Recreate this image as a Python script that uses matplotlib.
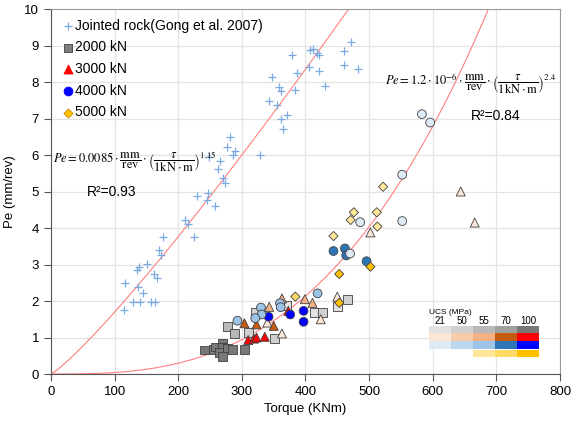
"""
Penetration rate vs torque: jointed rock data and TBM data coloured by UCS.
"""

import numpy as np
import matplotlib
matplotlib.use("Agg")
import matplotlib.pyplot as plt
from matplotlib.patches import Rectangle

plt.rcParams["font.family"] = ["Liberation Sans", "DejaVu Sans"]
plt.rcParams["mathtext.fontset"] = "stix"

# --------------------------------------------------
# DATA
# --------------------------------------------------
# jointed rock (Gong et al. 2007)
jr_torque = [347, 359, 361, 343, 356, 361, 371, 364, 281, 277, 289, 249, 265, 286,
             329, 262, 271, 273, 229, 246, 245, 258, 211, 216, 225, 176, 169, 173,
             151, 139, 135, 162, 166, 116, 136, 145, 129, 140, 157, 164, 114,
             471, 461, 407, 412, 418, 422, 379, 405, 421, 460, 482, 387, 430, 383]
jr_pe = [8.13, 7.85, 7.76, 7.49, 7.36, 6.98, 7.10, 6.72, 6.48, 6.23, 6.12, 5.95, 5.84, 5.99,
         6.00, 5.62, 5.38, 5.22, 4.88, 4.97, 4.77, 4.60, 4.22, 4.11, 3.75, 3.75, 3.40, 3.26,
         3.01, 2.94, 2.85, 2.74, 2.62, 2.50, 2.38, 2.23, 1.98, 1.98, 1.98, 1.98, 1.75,
         9.10, 8.86, 8.88, 8.90, 8.80, 8.73, 8.73, 8.42, 8.31, 8.47, 8.35, 8.24, 7.89, 7.77]

# 2000 kN (squares)
t2000 = [241, 255, 259, 269, 270, 277, 285, 264, 269, 304,
         278, 288, 310, 322, 351, 370, 414, 427, 450, 466]
pe2000 = [0.66, 0.68, 0.74, 0.85, 0.74, 0.71, 0.68, 0.60, 0.47, 0.68,
          1.30, 1.10, 1.13, 1.68, 0.98, 1.87, 1.69, 1.69, 1.84, 2.05]
ucs2000 = [100, 100, 100, 100, 100, 100, 100, 100, 100, 100,
           55, 55, 50, 50, 50, 21, 21, 50, 21, 50]

# 3000 kN (triangles)
t3000 = [310, 319, 323, 336, 373, 304, 323, 350, 343, 363, 399, 411,
         340, 363, 424, 450, 502, 644, 666]
pe3000 = [0.93, 0.97, 1.00, 1.02, 1.73, 1.39, 1.36, 1.32, 1.84, 2.07, 2.05, 1.95,
          1.41, 1.11, 1.50, 2.12, 3.88, 5.00, 4.15]
ucs3000 = [100, 100, 100, 100, 100, 70, 70, 70, 55, 55, 55, 55,
           21, 21, 21, 21, 21, 21, 21]

# 4000 kN (circles)
t4000 = [342, 376, 397, 397, 444, 462, 464, 496,
         330, 331, 321, 293, 360, 361, 419,
         470, 486, 552, 552, 583, 596]
pe4000 = [1.57, 1.63, 1.73, 1.43, 3.37, 3.44, 3.25, 3.09,
          1.82, 1.63, 1.53, 1.46, 1.94, 1.83, 2.21,
          3.30, 4.16, 4.19, 5.46, 7.12, 6.89]
ucs4000 = [100, 100, 100, 100, 70, 70, 70, 70,
           55, 55, 55, 55, 55, 55, 55,
           21, 21, 21, 21, 21, 21]

# 5000 kN (diamonds)
t5000 = [502, 453, 453, 384, 522, 476, 471, 512, 513, 444]
pe5000 = [2.94, 2.74, 1.95, 2.12, 5.13, 4.43, 4.22, 4.43, 4.04, 3.78]
ucs5000 = [100, 100, 100, 70, 55, 55, 55, 55, 55, 55]

# trend lines: (coefficient, exponent)
jr_fit = (0.0085, 1.15)
tbm_fit = (8.2e-8, 2.85)

ucs_levels = [21, 50, 55, 70, 100]
colors = {
    "square": ["#E2E2E2", "#D0D0D0", "#B8B8B8", "#A0A0A0", "#787878"],
    "triangle": ["#FBE5D6", "#F8CBAD", "#F4B183", "#C55A11", "#FF0000"],
    "circle": ["#DEEBF7", "#BDD7EE", "#9DC3E6", "#2E75B6", "#0000FF"],
    "diamond": [None, None, "#FFE699", "#FFD966", "#FFC000"],
}

# --------------------------------------------------
# FIGURE
# --------------------------------------------------
fig = plt.figure(figsize=(5.71, 4.21), dpi=100)
ax = fig.add_axes([0.0893, 0.1116, 0.8914, 0.867])

ax.set_xlim(0, 800)
ax.set_ylim(0, 10)
ax.set_xticks(range(0, 801, 100))
ax.set_yticks(range(0, 11))
ax.grid(True, color="#E4E4E4", lw=0.9)
ax.set_axisbelow(True)
ax.tick_params(labelsize=9.5, length=5, width=0.8, color="#555555")
for side in ["left", "bottom"]:
    ax.spines[side].set_color("#555555")
for side in ["top", "right"]:
    ax.spines[side].set_color("#9A9A9A")
ax.set_xlabel("Torque (KNm)", fontsize=9.5, labelpad=4)
ax.set_ylabel("Pe (mm/rev)", fontsize=9.5, labelpad=6)

# trend curves
tt = np.linspace(0, 800, 600)
ax.plot(tt, jr_fit[0] * tt ** jr_fit[1], color="#FF8080", lw=0.8, zorder=2)
ax.plot(tt, tbm_fit[0] * tt ** tbm_fit[1], color="#FF8080", lw=0.8, zorder=2)

# jointed rock
ax.scatter(jr_torque, jr_pe, marker="+", s=40, color="#7AAAE0", lw=0.9, zorder=3)


def draw_group(torque, pe, ucs, shape, marker, size):
    cols = [colors[shape][ucs_levels.index(u)] for u in ucs]
    ax.scatter(torque, pe, marker=marker, s=size, c=cols,
               edgecolors="#404040", linewidths=0.6, zorder=4)


draw_group(t2000, pe2000, ucs2000, "square", "s", 40)
draw_group(t3000, pe3000, ucs3000, "triangle", "^", 42)
draw_group(t4000, pe4000, ucs4000, "circle", "o", 40)
draw_group(t5000, pe5000, ucs5000, "diamond", "D", 22)

# legend
h_jr = ax.scatter([], [], marker="+", s=40, color="#7AAAE0", lw=0.9)
h2 = ax.scatter([], [], marker="s", s=40, c="#7F7F7F", edgecolors="#404040", linewidths=0.6)
h3 = ax.scatter([], [], marker="^", s=42, c="#FF0000", edgecolors="#FF0000", linewidths=0.6)
h4 = ax.scatter([], [], marker="o", s=40, c="#0000FF", edgecolors="#0000FF", linewidths=0.6)
h5 = ax.scatter([], [], marker="D", s=22, c="#FFC000", edgecolors="#BF9000", linewidths=0.6)
ax.legend([h_jr, h2, h3, h4, h5],
          ["Jointed rock(Gong et al. 2007)", "2000 kN", "3000 kN", "4000 kN", "5000 kN"],
          loc="upper left", frameon=False, fontsize=10, handletextpad=0.05,
          handlelength=1.0, labelspacing=0.55, borderaxespad=0.3,
          bbox_to_anchor=(0.0, 1.0))

# equations
eq1 = (r"$Pe=0.0085\cdot\dfrac{\mathrm{mm}}{\mathrm{rev}}\cdot"
       r"\left(\dfrac{\tau}{1\mathrm{kN}\cdot\mathrm{m}}\right)^{1.15}$")
eq2 = (r"$Pe=1.2\cdot10^{-6}\cdot\dfrac{\mathrm{mm}}{\mathrm{rev}}\cdot"
       r"\left(\dfrac{\tau}{1\mathrm{kN}\cdot\mathrm{m}}\right)^{2.4}$")
ax.text(0.003, 0.582, eq1, transform=ax.transAxes, fontsize=9, va="center", ha="left")
ax.text(0.119, 0.498, "R²=0.93", transform=ax.transAxes, fontsize=10, va="center", ha="center")
ax.text(0.656, 0.796, eq2, transform=ax.transAxes, fontsize=9, va="center", ha="left")
ax.text(0.874, 0.708, "R²=0.84", transform=ax.transAxes, fontsize=10, va="center", ha="center")

# UCS colour key
x0, cw = 0.743, 0.0432
row_tops = [0.1315, 0.1123, 0.0904, 0.0658]
row_h = [0.0192, 0.0219, 0.0219, 0.0192]
for r, shape in enumerate(["square", "triangle", "circle", "diamond"]):
    for c, col in enumerate(colors[shape]):
        if col is None:
            continue
        ax.add_patch(Rectangle((x0 + c * cw, row_tops[r] - row_h[r]), cw, row_h[r],
                               transform=ax.transAxes, facecolor=col,
                               edgecolor="none", zorder=5))
ax.text(x0, 0.168, "UCS (MPa)", transform=ax.transAxes, fontsize=6, va="center", ha="left")
for c, u in enumerate(ucs_levels):
    ax.text(x0 + (c + 0.5) * cw, 0.146, str(u), transform=ax.transAxes,
            fontsize=7, va="center", ha="center")

fig.savefig("out.png", dpi=100)
